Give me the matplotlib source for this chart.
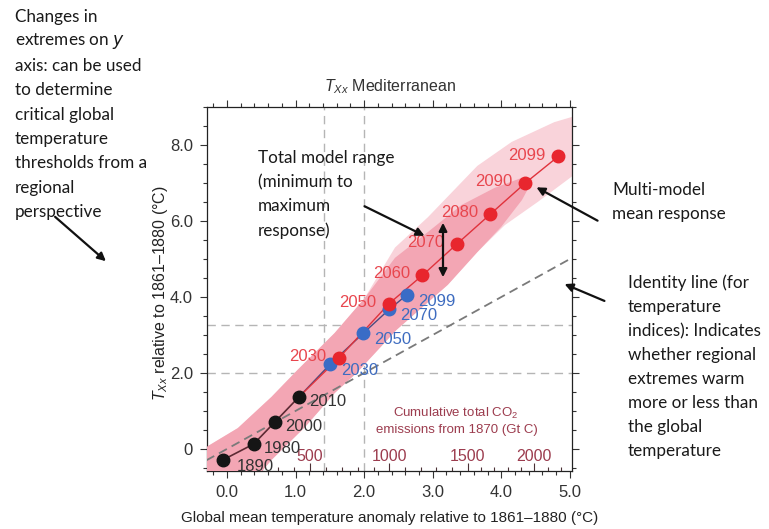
import numpy as np
import matplotlib
matplotlib.use('Agg')
import matplotlib.pyplot as plt
from matplotlib.ticker import MultipleLocator, FixedLocator, FuncFormatter

# ---------------- data ----------------
hist_years = ['1890', '1980', '2000', '2010']
hist_x = [-0.06, 0.39, 0.70, 1.05]
hist_y = [-0.29, 0.13, 0.71, 1.37]

rcp85_years = ['2030', '2050', '2060', '2070', '2080', '2090', '2099']
rcp85_x = [1.63, 2.36, 2.85, 3.35, 3.84, 4.35, 4.83]
rcp85_y = [2.39, 3.82, 4.57, 5.39, 6.18, 7.00, 7.70]

rcp45_years = ['2030', '2050', '2070', '2099']
rcp45_x = [1.51, 1.99, 2.37, 2.62]
rcp45_y = [2.24, 3.05, 3.68, 4.05]

# total model range (outer, light) edges
range_up_x = [-0.30, 0.16, 0.65, 1.03, 1.57, 2.00, 2.45, 2.93, 3.65, 4.15, 4.77, 5.05]
range_up_y = [0.05, 0.55, 1.37, 2.08, 3.05, 3.95, 5.30, 6.10, 7.45, 8.08, 8.60, 8.75]
range_lo_x = [-0.30, 0.48, 0.65, 1.14, 1.57, 1.89, 2.47, 3.22, 3.65, 4.05, 4.53, 5.05]
range_lo_y = [-0.65, -0.65, -0.29, 0.58, 1.47, 2.00, 3.13, 4.32, 5.18, 5.89, 6.50, 7.20]

# overlapping range (inner, darker) edges
inner_up_x = [-0.30, 0.16, 0.65, 1.03, 1.57, 2.00, 2.45, 2.93, 3.42, 3.90, 4.29, 4.45]
inner_up_y = [0.05, 0.55, 1.37, 2.08, 3.05, 3.95, 5.03, 5.71, 6.42, 6.87, 7.13, 7.08]
inner_lo_x = [-0.30, 0.48, 0.65, 1.14, 1.57, 1.89, 2.47, 3.22, 3.65, 4.00, 4.30, 4.45]
inner_lo_y = [-0.65, -0.65, -0.29, 0.58, 1.47, 2.00, 3.13, 4.32, 5.18, 5.85, 6.55, 7.05]

# reference dashed lines
thresh_x = [1.41, 2.0]
thresh_y = [2.0, 3.27]
identity = [-0.3, 5.05]

# cumulative CO2 secondary scale
co2_ticks = [500, 1000, 1500, 2000]
co2_tick_temp = [1.21, 2.37, 3.51, 4.48]
co2_minor = list(range(100, 2400, 100))

x_major = [0, 1, 2, 3, 4, 5]
y_major = [0, 2, 4, 6, 8]

# ---------------- figure ----------------
W, H = 769, 529
fig = plt.figure(figsize=(W / 100, H / 100), dpi=100)
plt.rcParams['mathtext.fontset'] = 'custom'
plt.rcParams['mathtext.rm'] = 'Liberation Sans'
plt.rcParams['mathtext.it'] = 'Liberation Sans:italic'

CF = 'Liberation Sans'
tickc = '#333333'
ax = fig.add_axes([207 / W, 1 - 471 / H, 365 / W, 364 / H])
ax.set_xlim(-0.29, 5.03)
ax.set_ylim(-0.58, 9.0)

for xv in thresh_x:
    ax.axvline(xv, color='#b5b5b5', lw=1.0, ls=(0, (6, 4)), zorder=1)
for yv in thresh_y:
    ax.axhline(yv, color='#b5b5b5', lw=1.0, ls=(0, (6, 4)), zorder=1)

ax.fill(np.concatenate([range_up_x, range_lo_x[::-1]]),
        np.concatenate([range_up_y, range_lo_y[::-1]]),
        color='#f9d3da', lw=0, zorder=2)
ax.fill(np.concatenate([inner_up_x, inner_lo_x[::-1]]),
        np.concatenate([inner_up_y, inner_lo_y[::-1]]),
        color='#f3a6b4', lw=0, zorder=3)

ax.plot(identity, identity, color='#7a7a7a', lw=1.3, ls=(0, (5, 3)), zorder=4)

ax.plot(hist_x, hist_y, color='#5c2a33', lw=1.2, zorder=5)
ax.plot([hist_x[-1]] + rcp45_x, [hist_y[-1]] + rcp45_y, color='#4b4b80', lw=1.0, zorder=5)
ax.plot([hist_x[-1]] + rcp85_x, [hist_y[-1]] + rcp85_y, color='#e0323c', lw=1.0, zorder=5)

ax.plot(hist_x, hist_y, 'o', color='#151515', ms=9, zorder=6)
ax.plot(rcp45_x, rcp45_y, 'o', color='#3a6cc6', ms=9, zorder=6)
ax.plot(rcp85_x, rcp85_y, 'o', color='#e8262e', ms=9, zorder=6)

for i, (yr, x, y) in enumerate(zip(hist_years, hist_x, hist_y)):
    off = (10, -5) if i == 0 else (7, -3)
    ax.annotate(yr, (x, y), xytext=off, textcoords='offset points', ha='left', va='center',
                fontsize=12, color='#333333', family=CF, zorder=7)
for yr, x, y in zip(rcp85_years, rcp85_x, rcp85_y):
    ax.annotate(yr, (x, y), xytext=(-9, 1), textcoords='offset points', ha='right', va='center',
                fontsize=12, color='#e8464e', family=CF, zorder=7)
for yr, x, y in zip(rcp45_years, rcp45_x, rcp45_y):
    ax.annotate(yr, (x, y), xytext=(8, -4.5), textcoords='offset points', ha='left', va='center',
                fontsize=12, color='#3e6cc0', family=CF, zorder=7)

# axes styling
ax.xaxis.set_major_locator(FixedLocator(x_major))
ax.xaxis.set_minor_locator(MultipleLocator(0.2))
ax.yaxis.set_major_locator(FixedLocator(y_major))
ax.yaxis.set_minor_locator(MultipleLocator(0.5))
ax.xaxis.set_major_formatter(FuncFormatter(lambda v, p: f'{v:.1f}'))
ax.yaxis.set_major_formatter(FuncFormatter(lambda v, p: '0' if abs(v) < 1e-9 else f'{v:.1f}'))
ax.tick_params(which='both', direction='out', top=True, right=True, labeltop=False,
               labelright=False, width=0.8, color='#333333')
ax.tick_params(which='major', length=5, labelsize=12, labelcolor=tickc, pad=5)
ax.tick_params(which='minor', length=3)
for lab in ax.get_xticklabels() + ax.get_yticklabels():
    lab.set_family(CF)
for s in ax.spines.values():
    s.set_linewidth(0.9)
    s.set_color('#222222')

ax.set_title('$T_{\\mathit{Xx}}$ Mediterranean', fontsize=11.5, family=CF, color='#333333', pad=11)
ax.set_xlabel('Global mean temperature anomaly relative to 1861\u20131880 (\u00b0C)',
              fontsize=11, family=CF, color='#222222')
ax.xaxis.set_label_coords(0.5, -0.111)
ax.set_ylabel('$T_{\\mathit{Xx}}$ relative to 1861\u20131880 (\u00b0C)',
              fontsize=11.5, family=CF, color='#222222')
ax.yaxis.set_label_coords(-0.1, 0.49)

# CO2 secondary scale
t_ext = np.concatenate([[co2_tick_temp[0] - 10 * (co2_tick_temp[1] - co2_tick_temp[0])],
                        co2_tick_temp,
                        [co2_tick_temp[-1] + 10 * (co2_tick_temp[-1] - co2_tick_temp[-2])]])
c_ext = np.concatenate([[co2_ticks[0] - 10 * (co2_ticks[1] - co2_ticks[0])],
                        co2_ticks,
                        [co2_ticks[-1] + 10 * (co2_ticks[-1] - co2_ticks[-2])]])


def t2c(t):
    return np.interp(t, t_ext, c_ext)


def c2t(c):
    return np.interp(c, c_ext, t_ext)


co2c = '#9c3c4e'
sec = ax.secondary_xaxis('bottom', functions=(t2c, c2t))
sec.xaxis.set_major_locator(FixedLocator(co2_ticks))
sec.xaxis.set_minor_locator(FixedLocator(co2_minor))
sec.tick_params(which='both', direction='in', color='#4a3035', width=0.8)
sec.tick_params(which='major', length=6, labelsize=11.5, labelcolor=co2c, pad=-16)
sec.tick_params(which='minor', length=3)
for lab in sec.get_xticklabels():
    lab.set_family(CF)
sec.spines['bottom'].set_visible(False)

ax.text(456, 529 - 413, 'Cumulative total CO$_2$', transform=None, ha='center', va='center',
        fontsize=9.5, family=CF, color=co2c)
ax.text(457, 529 - 430, 'emissions from 1870 (Gt C)', transform=None, ha='center', va='center',
        fontsize=9.5, family=CF, color=co2c)

# ---------------- explanatory annotations ----------------
AF = 'Lato'
AS = 12.3


def block(lines, x, y0, step):
    for i, ln in enumerate(lines):
        fig.text(x / W, 1 - (y0 + i * step) / H, ln, ha='left', va='center',
                 fontsize=AS, family=AF, color='#1a1a1a', math_fontfamily='dejavusans')


block(['Changes in', 'extremes on $\\mathit{y}$', 'axis: can be used', 'to determine',
       'critical global', 'temperature', 'thresholds from a', 'regional', 'perspective'],
      15, 17, 24.4)
block(['Total model range', '(minimum to', 'maximum', 'response)'], 258, 158, 24.2)
block(['Multi-model', 'mean response'], 612, 190, 23.5)
block(['Identity line (for', 'temperature', 'indices): Indicates', 'whether regional',
       'extremes warm', 'more or less than', 'the global', 'temperature'], 628, 283, 24.0)


def arrow(x0, y0, x1, y1, style='-|>'):
    fig.add_artist(matplotlib.patches.FancyArrowPatch(
        (x0 / W, 1 - y0 / H), (x1 / W, 1 - y1 / H), transform=fig.transFigure,
        arrowstyle=style, mutation_scale=12, lw=1.6, color='#111111', zorder=10))


arrow(53, 215, 108, 263)
arrow(362, 205, 427, 237)
arrow(443, 280, 443, 220, style='<|-|>')
arrow(600, 222, 534, 186)
arrow(607, 302, 562, 283)

fig.savefig('out.png', dpi=100)
